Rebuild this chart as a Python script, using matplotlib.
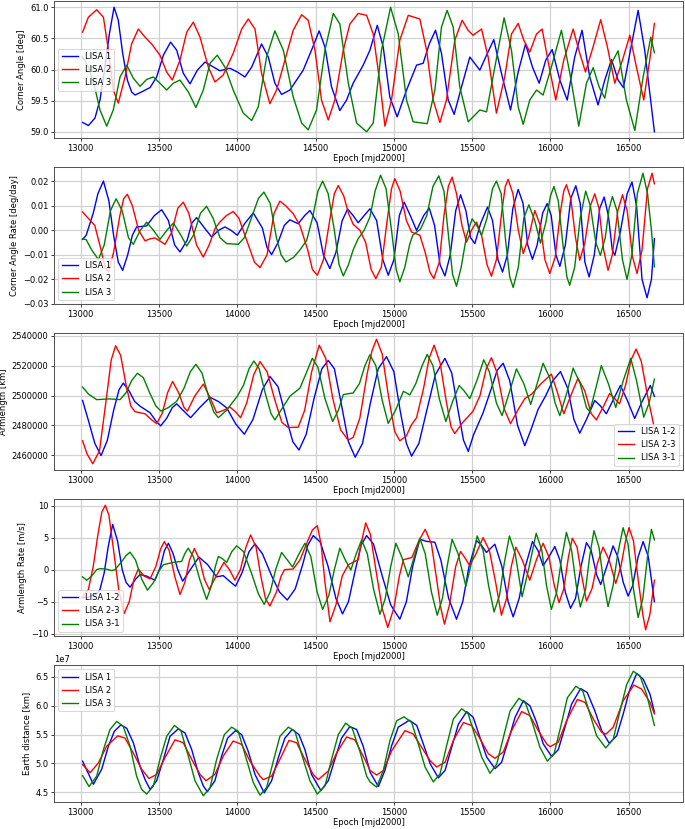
import matplotlib
matplotlib.use("Agg")
import matplotlib.pyplot as plt

# epoch [mjd2000], value
angle_1 = [(13012, 59.15), (13049, 59.10), (13091, 59.22), (13123, 59.51), (13155, 60.04), (13183, 60.57),
           (13213, 61.00), (13240, 60.79), (13268, 60.26), (13298, 59.83), (13325, 59.64), (13347, 59.59),
           (13389, 59.64), (13443, 59.71), (13485, 59.88), (13528, 60.23), (13574, 60.44), (13613, 60.31),
           (13655, 59.94), (13698, 59.77), (13745, 59.99), (13794, 60.12), (13847, 60.04), (13889, 59.98),
           (13953, 60.02), (14000, 59.96), (14049, 59.88), (14092, 60.04), (14155, 60.41), (14198, 60.20),
           (14240, 59.78), (14283, 59.60), (14336, 59.67), (14421, 59.99), (14474, 60.31), (14523, 60.62),
           (14560, 60.36), (14602, 59.72), (14655, 59.34), (14698, 59.51), (14740, 59.78), (14804, 60.07),
           (14847, 60.31), (14894, 60.71), (14932, 60.36), (14974, 59.56), (15021, 59.24), (15081, 59.67),
           (15145, 60.07), (15187, 60.10), (15226, 60.41), (15266, 60.63), (15304, 60.26), (15347, 59.51),
           (15385, 59.28), (15432, 59.72), (15485, 60.20), (15549, 59.99), (15592, 60.23), (15638, 60.48),
           (15687, 59.94), (15745, 59.35), (15794, 59.96), (15841, 60.41), (15885, 60.04), (15928, 59.78),
           (15970, 60.15), (16011, 60.32), (16060, 59.83), (16107, 59.51), (16155, 60.20), (16202, 60.63),
           (16251, 59.88), (16304, 59.43), (16347, 59.83), (16390, 60.16), (16432, 59.83), (16466, 59.71),
           (16511, 60.31), (16560, 60.95), (16602, 60.31), (16645, 59.40), (16664, 59.00)]
angle_2 = [(13012, 60.60), (13049, 60.84), (13102, 60.96), (13145, 60.84), (13177, 60.31), (13208, 59.67),
           (13240, 59.46), (13283, 59.88), (13325, 60.41), (13368, 60.65), (13411, 60.52), (13453, 60.41),
           (13506, 60.23), (13549, 59.96), (13585, 59.83), (13634, 60.15), (13677, 60.60), (13719, 60.76),
           (13762, 60.52), (13815, 60.04), (13857, 59.80), (13910, 59.91), (13974, 60.26), (14028, 60.65),
           (14070, 60.81), (14113, 60.65), (14155, 59.94), (14208, 59.45), (14251, 59.67), (14304, 60.15),
           (14357, 60.63), (14411, 60.88), (14453, 60.79), (14496, 60.31), (14538, 59.51), (14581, 59.19),
           (14623, 59.51), (14677, 60.31), (14719, 60.73), (14772, 60.90), (14826, 60.87), (14868, 60.57),
           (14911, 59.78), (14943, 59.09), (14985, 59.51), (15038, 60.47), (15092, 60.87), (15166, 60.81),
           (15209, 60.31), (15251, 59.51), (15294, 59.15), (15336, 59.51), (15389, 60.47), (15436, 60.79),
           (15474, 60.63), (15506, 60.55), (15560, 60.65), (15602, 60.20), (15655, 59.30), (15708, 59.88),
           (15751, 60.57), (15794, 60.74), (15830, 60.47), (15868, 60.28), (15911, 60.57), (15947, 60.65),
           (15992, 60.04), (16034, 59.51), (16085, 60.15), (16145, 60.65), (16187, 60.26), (16224, 59.96),
           (16272, 60.36), (16321, 60.80), (16364, 60.36), (16411, 59.78), (16460, 60.15), (16507, 60.55),
           (16549, 60.04), (16596, 59.51), (16634, 60.15), (16664, 60.74)]
angle_3 = [(13012, 60.20), (13049, 60.04), (13091, 59.70), (13123, 59.35), (13166, 59.09), (13208, 59.35),
           (13251, 59.88), (13294, 60.07), (13336, 59.86), (13379, 59.73), (13421, 59.84), (13464, 59.88),
           (13506, 59.78), (13549, 59.67), (13591, 59.78), (13634, 59.83), (13687, 59.64), (13736, 59.39),
           (13783, 59.67), (13826, 60.10), (13872, 60.23), (13921, 60.04), (13974, 59.67), (14038, 59.30),
           (14092, 59.18), (14134, 59.40), (14187, 60.20), (14240, 60.62), (14294, 60.31), (14357, 59.56),
           (14411, 59.14), (14453, 59.03), (14506, 59.35), (14560, 60.31), (14613, 60.90), (14655, 60.73),
           (14709, 59.78), (14762, 59.14), (14826, 59.00), (14868, 59.14), (14921, 60.31), (14979, 61.00),
           (15028, 60.57), (15081, 59.51), (15123, 59.16), (15213, 59.13), (15262, 59.67), (15304, 60.68),
           (15340, 60.95), (15379, 60.68), (15421, 59.72), (15475, 59.16), (15549, 59.35), (15592, 59.32),
           (15645, 60.04), (15704, 60.83), (15751, 60.31), (15794, 59.40), (15826, 59.12), (15868, 59.51),
           (15911, 59.67), (15953, 59.59), (16006, 60.04), (16070, 60.63), (16124, 59.94), (16181, 59.09),
           (16230, 59.78), (16273, 60.03), (16311, 59.72), (16347, 59.54), (16390, 60.10), (16432, 60.30),
           (16485, 59.51), (16539, 59.02), (16592, 59.88), (16641, 60.52), (16664, 60.27)]

rate_1 = [(13012, -0.0037), (13035, -0.0020), (13080, 0.0070), (13110, 0.0150), (13145, 0.0201),
          (13180, 0.0120), (13210, -0.0020), (13240, -0.0130), (13268, -0.0163), (13300, -0.0100),
          (13330, -0.0020), (13357, 0.0014), (13421, 0.0018), (13470, 0.0060), (13517, 0.0084),
          (13560, 0.0040), (13600, -0.0060), (13634, -0.0088), (13680, -0.0040), (13710, 0.0030),
          (13740, 0.0052), (13790, 0.0010), (13836, -0.0027), (13880, 0.0000), (13921, 0.0014),
          (13960, 0.0000), (14000, -0.0020), (14050, 0.0030), (14102, 0.0071), (14160, 0.0010),
          (14190, -0.0070), (14219, -0.0099), (14260, -0.0050), (14300, 0.0020), (14336, 0.0043),
          (14389, 0.0027), (14430, 0.0060), (14464, 0.0081), (14510, 0.0030), (14550, -0.0100),
          (14591, -0.0156), (14630, -0.0090), (14670, 0.0040), (14705, 0.0087), (14740, 0.0060),
          (14772, 0.0031), (14810, 0.0060), (14847, 0.0088), (14890, 0.0040), (14930, -0.0120),
          (14964, -0.0183), (15000, -0.0120), (15035, 0.0060), (15066, 0.0115), (15105, 0.0060),
          (15145, 0.0000), (15190, 0.0060), (15226, 0.0091), (15260, 0.0020), (15295, -0.0140),
          (15326, -0.0186), (15360, -0.0100), (15395, 0.0080), (15426, 0.0145), (15460, 0.0080),
          (15490, -0.0030), (15517, -0.0054), (15555, 0.0030), (15598, 0.0095), (15630, 0.0040),
          (15665, -0.0120), (15694, -0.0170), (15725, -0.0100), (15760, 0.0090), (15794, 0.0167),
          (15825, 0.0110), (15855, -0.0060), (15885, -0.0118), (15915, -0.0060), (15950, 0.0070),
          (15979, 0.0109), (16005, 0.0060), (16035, -0.0100), (16060, -0.0147), (16095, -0.0060),
          (16130, 0.0130), (16162, 0.0182), (16190, 0.0110), (16220, -0.0130), (16247, -0.0190),
          (16280, -0.0100), (16315, 0.0090), (16343, 0.0136), (16370, 0.0060), (16395, -0.0080),
          (16411, -0.0102), (16445, -0.0010), (16490, 0.0150), (16521, 0.0197), (16550, 0.0100),
          (16585, -0.0200), (16617, -0.0275), (16645, -0.0200), (16664, -0.0034)]
rate_2 = [(13012, 0.0075), (13040, 0.0055), (13060, 0.0041), (13090, 0.0020), (13130, -0.0080),
          (13155, -0.0150), (13177, -0.0169), (13210, -0.0090), (13250, 0.0060), (13275, 0.0130),
          (13298, 0.0147), (13330, 0.0100), (13370, 0.0000), (13411, -0.0043), (13440, -0.0035),
          (13474, -0.0031), (13510, -0.0045), (13538, -0.0057), (13580, -0.0010), (13620, 0.0090),
          (13655, 0.0115), (13690, 0.0070), (13740, -0.0060), (13783, -0.0109), (13820, -0.0060),
          (13860, 0.0010), (13889, 0.0034), (13930, 0.0060), (13974, 0.0077), (14010, 0.0050),
          (14060, -0.0040), (14110, -0.0130), (14145, -0.0152), (14190, -0.0100), (14235, 0.0070),
          (14272, 0.0119), (14310, 0.0100), (14357, 0.0068), (14400, 0.0020), (14450, -0.0080),
          (14480, -0.0160), (14511, -0.0183), (14550, -0.0120), (14590, 0.0040), (14620, 0.0150),
          (14645, 0.0183), (14680, 0.0140), (14710, 0.0070), (14740, 0.0025), (14783, 0.0000),
          (14820, -0.0050), (14855, -0.0160), (14885, -0.0197), (14920, -0.0150), (14955, 0.0030),
          (14985, 0.0170), (15006, 0.0211), (15040, 0.0160), (15080, 0.0040), (15113, -0.0007),
          (15166, -0.0020), (15200, -0.0090), (15230, -0.0170), (15255, -0.0197), (15290, -0.0130),
          (15320, 0.0060), (15348, 0.0180), (15372, 0.0217), (15400, 0.0150), (15435, 0.0020),
          (15464, -0.0048), (15495, 0.0000), (15528, 0.0034), (15560, -0.0020), (15595, -0.0140),
          (15623, -0.0187), (15655, -0.0120), (15690, 0.0080), (15712, 0.0180), (15730, 0.0208),
          (15760, 0.0150), (15795, 0.0000), (15826, -0.0095), (15860, -0.0030), (15900, 0.0081),
          (15935, 0.0020), (15965, -0.0120), (15996, -0.0176), (16030, -0.0110), (16065, 0.0080),
          (16085, 0.0160), (16102, 0.0186), (16130, 0.0130), (16160, -0.0030), (16187, -0.0122),
          (16220, -0.0050), (16255, 0.0100), (16283, 0.0149), (16310, 0.0090), (16340, -0.0080),
          (16368, -0.0163), (16395, -0.0100), (16430, 0.0080), (16460, 0.0145), (16490, 0.0080),
          (16525, -0.0110), (16553, -0.0176), (16585, -0.0080), (16620, 0.0170), (16649, 0.0233),
          (16664, 0.0190)]
rate_3 = [(13012, -0.0034), (13035, -0.0038), (13070, -0.0080), (13113, -0.0119), (13150, -0.0060),
          (13190, 0.0080), (13226, 0.0129), (13265, 0.0080), (13305, -0.0030), (13336, -0.0057),
          (13380, 0.0000), (13421, 0.0033), (13465, 0.0000), (13506, -0.0037), (13550, 0.0000),
          (13592, 0.0030), (13640, -0.0020), (13677, -0.0064), (13720, -0.0020), (13765, 0.0070),
          (13804, 0.0098), (13845, 0.0050), (13890, -0.0030), (13932, -0.0054), (14006, -0.0057),
          (14045, -0.0030), (14090, 0.0050), (14135, 0.0130), (14170, 0.0156), (14210, 0.0110),
          (14250, -0.0030), (14280, -0.0100), (14311, -0.0129), (14360, -0.0110), (14400, -0.0080),
          (14443, -0.0041), (14480, 0.0050), (14515, 0.0160), (14545, 0.0201), (14580, 0.0150),
          (14620, 0.0000), (14650, -0.0140), (14677, -0.0186), (14710, -0.0140), (14740, -0.0080),
          (14772, -0.0034), (14810, 0.0000), (14847, 0.0054), (14880, 0.0160), (14915, 0.0225),
          (14950, 0.0170), (14985, 0.0000), (15015, -0.0160), (15038, -0.0210), (15070, -0.0150),
          (15100, -0.0060), (15120, -0.0020), (15170, 0.0005), (15210, 0.0060), (15250, 0.0180),
          (15287, 0.0222), (15320, 0.0160), (15350, -0.0030), (15375, -0.0180), (15400, -0.0228),
          (15430, -0.0150), (15465, -0.0020), (15500, 0.0047), (15530, 0.0020), (15560, -0.0020),
          (15595, 0.0050), (15630, 0.0170), (15655, 0.0201), (15685, 0.0150), (15715, -0.0050),
          (15740, -0.0190), (15762, -0.0233), (15795, -0.0150), (15830, 0.0050), (15862, 0.0104),
          (15900, 0.0040), (15936, -0.0052), (15970, 0.0030), (16000, 0.0140), (16022, 0.0179),
          (16050, 0.0120), (16080, -0.0060), (16105, -0.0190), (16123, -0.0224), (16155, -0.0150),
          (16190, 0.0050), (16225, 0.0160), (16255, 0.0100), (16290, -0.0050), (16319, -0.0102),
          (16350, -0.0030), (16375, 0.0090), (16396, 0.0138), (16425, 0.0080), (16460, -0.0120),
          (16489, -0.0200), (16520, -0.0100), (16555, 0.0150), (16591, 0.0233), (16620, 0.0150),
          (16645, 0.0000), (16664, -0.0149)]

arm_12 = [(13012, 2496700), (13050, 2483000), (13090, 2468000), (13130, 2459800), (13170, 2470000),
          (13210, 2490000), (13245, 2504000), (13272, 2508400), (13310, 2503000), (13345, 2496000),
          (13379, 2492900), (13443, 2488500), (13480, 2483000), (13511, 2479700), (13550, 2485000),
          (13585, 2492000), (13613, 2494500), (13650, 2490500), (13702, 2485200), (13760, 2492000),
          (13826, 2498900), (13880, 2496000), (13932, 2491800), (13990, 2481000), (14045, 2474100),
          (14100, 2484000), (14160, 2504000), (14209, 2512800), (14260, 2506000), (14310, 2486000),
          (14355, 2469000), (14394, 2463500), (14440, 2474000), (14490, 2498000), (14540, 2518000),
          (14581, 2523600), (14620, 2518000), (14665, 2494000), (14710, 2469000), (14753, 2458700),
          (14800, 2468000), (14850, 2495000), (14900, 2518000), (14953, 2526100), (15000, 2516000),
          (15040, 2490000), (15080, 2468000), (15113, 2459400), (15160, 2468000), (15210, 2490000),
          (15265, 2514000), (15326, 2525000), (15370, 2515000), (15410, 2490000), (15445, 2470000),
          (15475, 2462600), (15510, 2474000), (15570, 2488500), (15620, 2504000), (15660, 2517000),
          (15698, 2521700), (15740, 2510000), (15790, 2480000), (15836, 2466400), (15875, 2477000),
          (15921, 2490700), (15970, 2500000), (16015, 2510000), (16064, 2516100), (16110, 2505000),
          (16150, 2484000), (16187, 2474800), (16230, 2484000), (16283, 2496700), (16320, 2493000),
          (16357, 2487800), (16400, 2497000), (16447, 2506800), (16490, 2497000), (16538, 2484700),
          (16585, 2496000), (16638, 2506800), (16664, 2499500)]
arm_23 = [(13012, 2469700), (13040, 2461000), (13077, 2454300), (13120, 2463000), (13160, 2495000),
          (13195, 2524000), (13223, 2533400), (13255, 2527000), (13290, 2507000), (13320, 2493000),
          (13347, 2489200), (13411, 2487800), (13450, 2484000), (13485, 2481200), (13520, 2488000),
          (13555, 2502000), (13587, 2509500), (13625, 2502000), (13660, 2492000), (13681, 2489600),
          (13730, 2500000), (13783, 2507700), (13825, 2499000), (13868, 2488500), (13910, 2490000),
          (13953, 2492300), (13990, 2489000), (14021, 2485200), (14060, 2495000), (14105, 2514000),
          (14145, 2522800), (14190, 2516000), (14240, 2497000), (14285, 2482000), (14326, 2478600),
          (14389, 2478800), (14430, 2490000), (14475, 2516000), (14523, 2533800), (14565, 2525000),
          (14610, 2498000), (14660, 2477000), (14708, 2470200), (14740, 2472000), (14783, 2485000),
          (14830, 2515000), (14860, 2530000), (14889, 2537800), (14925, 2528000), (14965, 2500000),
          (15005, 2476000), (15038, 2469700), (15080, 2473000), (15110, 2480000), (15145, 2485200),
          (15190, 2505000), (15225, 2525000), (15257, 2533800), (15295, 2522000), (15335, 2496000),
          (15365, 2479000), (15389, 2474600), (15440, 2482000), (15506, 2489600), (15550, 2500000),
          (15590, 2518000), (15623, 2525400), (15660, 2515000), (15705, 2491000), (15745, 2481200),
          (15790, 2490000), (15836, 2498000), (15880, 2501000), (15940, 2508000), (16006, 2514400),
          (16045, 2502000), (16085, 2487800), (16130, 2500000), (16176, 2511700), (16220, 2503000),
          (16260, 2488000), (16293, 2483700), (16335, 2492000), (16378, 2501400), (16410, 2498000),
          (16441, 2494500), (16480, 2507000), (16515, 2524000), (16547, 2531200), (16580, 2523000),
          (16620, 2500000), (16664, 2478000)]
arm_31 = [(13012, 2505700), (13050, 2501000), (13102, 2497300), (13187, 2497800), (13251, 2497300),
          (13290, 2502000), (13325, 2510000), (13362, 2515000), (13400, 2512000), (13440, 2502000),
          (13480, 2493000), (13513, 2489600), (13560, 2492000), (13613, 2496200), (13660, 2505000),
          (13700, 2516000), (13736, 2521000), (13775, 2515000), (13820, 2498000), (13850, 2489000),
          (13879, 2485200), (13930, 2490000), (14000, 2499600), (14040, 2507000), (14075, 2518000),
          (14106, 2523200), (14140, 2518000), (14180, 2501000), (14215, 2488000), (14240, 2483700),
          (14290, 2492000), (14336, 2499600), (14400, 2505000), (14440, 2515000), (14479, 2525000),
          (14515, 2519000), (14560, 2498000), (14609, 2482600), (14645, 2490000), (14677, 2500700),
          (14740, 2501800), (14780, 2508000), (14815, 2520000), (14847, 2527400), (14885, 2520000),
          (14925, 2497000), (14964, 2481400), (15010, 2490000), (15061, 2502900), (15102, 2500500),
          (15140, 2508000), (15180, 2520000), (15213, 2527600), (15250, 2520000), (15290, 2498000),
          (15332, 2482600), (15375, 2496000), (15417, 2506800), (15450, 2503000), (15485, 2498000),
          (15530, 2510000), (15574, 2524000), (15610, 2516000), (15655, 2495000), (15691, 2486600),
          (15740, 2503000), (15783, 2517900), (15830, 2508000), (15874, 2494100), (15915, 2508000),
          (15953, 2521700), (15995, 2512000), (16030, 2495000), (16060, 2486600), (16105, 2502000),
          (16145, 2518400), (16190, 2508000), (16230, 2492000), (16251, 2489300), (16290, 2505000),
          (16325, 2520100), (16370, 2508000), (16417, 2492000), (16465, 2510000), (16513, 2525000),
          (16550, 2510000), (16596, 2485500), (16630, 2495000), (16664, 2511000)]

armrate_12 = [(13012, -4.40), (13060, -4.20), (13100, -3.80), (13123, -3.10), (13150, -0.50), (13175, 3.50),
              (13204, 7.06), (13235, 4.50), (13265, 0.00), (13290, -2.00), (13315, -2.73), (13350, -1.50),
              (13379, -0.77), (13420, -1.00), (13474, -1.65), (13510, 0.50), (13535, 3.00), (13560, 4.12),
              (13590, 2.50), (13620, 0.00), (13651, -1.80), (13700, 0.00), (13755, 1.96), (13810, 0.80),
              (13868, -1.13), (13910, -0.93), (13950, -1.80), (13989, -2.58), (14030, -0.50), (14075, 2.80),
              (14113, 4.02), (14160, 2.50), (14220, -1.00), (14270, -3.50), (14319, -4.74), (14370, -3.00),
              (14420, 1.00), (14450, 3.80), (14485, 5.31), (14530, 4.30), (14580, 0.50), (14630, -4.50),
              (14672, -6.90), (14710, -5.00), (14750, -0.50), (14790, 3.80), (14826, 5.31), (14870, 4.00),
              (14920, -0.50), (14980, -5.50), (15038, -7.73), (15080, -5.00), (15120, 0.50), (15166, 4.74),
              (15210, 4.40), (15262, 4.28), (15300, 1.50), (15350, -4.50), (15400, -7.73), (15440, -5.00),
              (15480, 0.50), (15528, 4.54), (15560, 3.80), (15591, 2.68), (15645, 3.97), (15690, 0.50),
              (15730, -5.00), (15762, -7.37), (15800, -4.50), (15840, 0.50), (15885, 4.38), (15920, 3.00),
              (15953, 0.62), (15990, 2.00), (16028, 3.61), (16060, 1.50), (16095, -3.50), (16128, -6.03),
              (16160, -4.50), (16195, 0.50), (16230, 4.23), (16260, 3.00), (16295, -0.80), (16321, -2.32),
              (16360, 0.50), (16400, 3.71), (16430, 2.00), (16465, -2.00), (16496, -4.12), (16525, -2.50),
              (16560, 2.00), (16592, 4.38), (16625, 2.00), (16664, -5.00)]
armrate_23 = [(13012, -4.23), (13049, -3.10), (13080, 0.50), (13110, 5.50), (13135, 9.00), (13157, 10.05),
              (13180, 8.50), (13210, 3.00), (13245, -3.50), (13277, -6.86), (13310, -5.00), (13340, -1.50),
              (13368, 0.10), (13405, -1.00), (13443, -1.44), (13480, 0.50), (13510, 3.20), (13534, 4.38),
              (13565, 3.00), (13600, -1.00), (13634, -3.87), (13665, -2.00), (13695, 1.50), (13726, 3.30),
              (13760, 1.50), (13790, -1.50), (13821, -3.09), (13865, -1.00), (13915, 1.13), (13950, 0.00),
              (13985, -1.65), (14020, 0.00), (14055, 3.50), (14085, 5.41), (14120, 3.50), (14150, -1.00),
              (14180, -4.50), (14208, -5.67), (14250, -3.50), (14280, -1.00), (14302, 0.00), (14357, 0.10),
              (14400, 1.50), (14450, 4.50), (14480, 6.20), (14511, 6.86), (14535, 4.00), (14560, -2.00),
              (14592, -8.14), (14630, -5.50), (14670, -1.00), (14709, 0.77), (14772, 1.55), (14795, 4.50),
              (14820, 7.30), (14850, 5.50), (14885, 0.00), (14925, -6.00), (14961, -9.02), (15000, -6.00),
              (15035, -1.00), (15061, 1.55), (15115, 1.90), (15160, 4.50), (15200, 6.29), (15240, 4.00),
              (15270, -1.00), (15300, -6.00), (15323, -8.50), (15355, -5.50), (15395, 0.50), (15426, 2.84),
              (15455, 1.80), (15485, 0.62), (15525, 2.50), (15570, 5.00), (15610, 3.00), (15650, -2.00),
              (15687, -7.11), (15720, -4.50), (15750, 0.50), (15779, 3.50), (15820, 1.50), (15868, -1.65),
              (15910, 1.50), (15953, 4.12), (15990, 2.00), (16025, -2.50), (16055, -5.15), (16085, -3.00),
              (16115, 2.00), (16140, 4.90), (16170, 3.50), (16200, -1.00), (16230, -4.90), (16265, -3.00),
              (16300, 1.00), (16336, 3.50), (16375, 1.50), (16417, -2.16), (16450, 0.50), (16480, 4.50),
              (16502, 6.55), (16530, 4.50), (16560, -1.50), (16590, -7.00), (16608, -9.38), (16635, -7.00),
              (16664, -1.65)]
armrate_31 = [(13012, -1.13), (13038, -1.65), (13070, -1.00), (13102, 0.00), (13123, 0.15), (13160, 0.10),
              (13198, -0.15), (13219, 0.00), (13260, 1.20), (13290, 2.20), (13315, 2.73), (13350, 1.50),
              (13390, -1.50), (13426, -3.20), (13465, -2.00), (13500, -0.20), (13528, 0.77), (13591, 1.13),
              (13645, 1.29), (13665, 2.50), (13687, 3.35), (13720, 2.00), (13760, -1.50), (13804, -4.64),
              (13835, -2.50), (13860, 0.50), (13879, 2.06), (13905, 1.70), (13932, 1.13), (13965, 2.80),
              (13996, 3.71), (14040, 2.80), (14090, -0.50), (14135, -3.80), (14172, -5.41), (14210, -3.50),
              (14245, 0.00), (14283, 2.68), (14320, 1.50), (14353, 0.41), (14395, 2.50), (14432, 4.12),
              (14470, 2.00), (14510, -3.50), (14545, -6.19), (14585, -4.00), (14620, 0.00), (14655, 3.35),
              (14690, 1.50), (14725, -0.05), (14760, 2.50), (14794, 4.64), (14830, 2.50), (14870, -3.00),
              (14911, -6.96), (14945, -4.50), (14980, 0.50), (15013, 4.12), (15050, 2.00), (15092, -1.13),
              (15130, 2.00), (15166, 4.90), (15200, 2.50), (15240, -3.50), (15277, -7.11), (15310, -4.50),
              (15340, 0.50), (15372, 4.74), (15410, 2.50), (15460, -2.58), (15495, 1.00), (15532, 5.26),
              (15570, 3.00), (15605, -2.50), (15640, -6.60), (15675, -4.00), (15705, 1.00), (15738, 5.26),
              (15775, 2.50), (15819, -4.23), (15860, 0.00), (15909, 5.67), (15945, 3.00), (15975, -2.50),
              (16006, -6.19), (16040, -3.50), (16070, 1.50), (16102, 5.82), (16135, 3.00), (16165, -2.50),
              (16191, -5.82), (16225, -3.00), (16250, 2.00), (16278, 6.08), (16310, 3.50), (16340, -2.00),
              (16368, -5.77), (16400, -2.50), (16430, 2.50), (16464, 6.55), (16495, 4.00), (16530, -3.00),
              (16560, -7.47), (16590, -4.50), (16620, 2.00), (16645, 6.29), (16664, 4.64)]

# earth distance in units of 1e7 km
earth_1 = [(13012, 5.04), (13081, 4.64), (13134, 4.90), (13177, 5.30), (13215, 5.56), (13257, 5.67),
           (13294, 5.61), (13336, 5.36), (13379, 4.95), (13411, 4.72), (13443, 4.55), (13485, 4.70),
           (13528, 5.07), (13570, 5.47), (13623, 5.60), (13666, 5.53), (13709, 5.24), (13751, 4.84),
           (13783, 4.61), (13809, 4.51), (13857, 4.70), (13900, 5.13), (13938, 5.44), (13989, 5.57),
           (14028, 5.50), (14070, 5.21), (14113, 4.81), (14172, 4.49), (14219, 4.70), (14262, 5.10),
           (14304, 5.44), (14351, 5.59), (14394, 5.50), (14432, 5.24), (14474, 4.81), (14534, 4.53),
           (14581, 4.70), (14623, 5.07), (14666, 5.44), (14719, 5.64), (14762, 5.59), (14804, 5.30),
           (14848, 4.85), (14901, 4.60), (14943, 4.88), (14986, 5.31), (15028, 5.63), (15099, 5.75),
           (15146, 5.66), (15188, 5.34), (15231, 5.00), (15284, 4.75), (15327, 4.88), (15369, 5.28),
           (15412, 5.68), (15465, 5.90), (15507, 5.80), (15550, 5.45), (15593, 5.11), (15646, 4.91),
           (15688, 5.02), (15731, 5.40), (15774, 5.80), (15827, 6.09), (15869, 6.00), (15912, 5.71),
           (15954, 5.34), (16008, 5.12), (16050, 5.24), (16093, 5.63), (16135, 6.03), (16193, 6.30),
           (16235, 6.23), (16284, 5.91), (16327, 5.57), (16376, 5.35), (16423, 5.48), (16465, 5.86),
           (16504, 6.26), (16551, 6.56), (16593, 6.46), (16636, 6.20), (16664, 5.89)]
earth_2 = [(13012, 4.98), (13060, 4.84), (13113, 5.01), (13166, 5.30), (13236, 5.48), (13283, 5.44),
           (13336, 5.18), (13389, 4.90), (13436, 4.74), (13485, 4.81), (13538, 5.10), (13602, 5.41),
           (13655, 5.36), (13709, 5.07), (13762, 4.81), (13800, 4.70), (13857, 4.81), (13911, 5.13),
           (13974, 5.39), (14028, 5.33), (14081, 5.04), (14145, 4.78), (14166, 4.72), (14219, 4.78),
           (14272, 5.07), (14330, 5.40), (14379, 5.36), (14432, 5.07), (14485, 4.81), (14517, 4.72),
           (14581, 4.87), (14634, 5.18), (14698, 5.46), (14751, 5.41), (14815, 5.07), (14848, 4.88),
           (14890, 4.80), (14933, 4.88), (14986, 5.22), (15071, 5.57), (15124, 5.51), (15177, 5.28),
           (15231, 5.05), (15273, 4.94), (15327, 5.02), (15380, 5.40), (15444, 5.71), (15497, 5.66),
           (15550, 5.43), (15603, 5.17), (15646, 5.09), (15699, 5.20), (15752, 5.57), (15816, 5.90),
           (15869, 5.83), (15922, 5.57), (15976, 5.34), (15997, 5.29), (16050, 5.37), (16103, 5.74),
           (16172, 6.11), (16221, 6.06), (16274, 5.77), (16327, 5.54), (16355, 5.51), (16401, 5.63),
           (16465, 6.09), (16533, 6.36), (16582, 6.29), (16636, 6.06), (16664, 5.86)]
earth_3 = [(13012, 4.79), (13053, 4.60), (13102, 4.78), (13145, 5.24), (13187, 5.59), (13230, 5.73),
           (13272, 5.64), (13315, 5.30), (13357, 4.78), (13389, 4.55), (13421, 4.47), (13464, 4.61),
           (13506, 5.07), (13549, 5.47), (13598, 5.66), (13640, 5.57), (13687, 5.13), (13730, 4.70),
           (13783, 4.44), (13826, 4.58), (13868, 5.07), (13917, 5.50), (13964, 5.63), (14006, 5.56),
           (14049, 5.16), (14102, 4.67), (14145, 4.45), (14187, 4.58), (14230, 5.04), (14272, 5.47),
           (14326, 5.63), (14368, 5.56), (14411, 5.16), (14464, 4.70), (14511, 4.47), (14560, 4.61),
           (14602, 5.07), (14645, 5.50), (14692, 5.70), (14734, 5.61), (14783, 5.21), (14826, 4.78),
           (14848, 4.68), (14890, 4.59), (14933, 4.88), (14975, 5.40), (15018, 5.74), (15065, 5.81),
           (15114, 5.71), (15156, 5.34), (15199, 4.94), (15252, 4.68), (15295, 4.82), (15337, 5.31),
           (15380, 5.77), (15433, 5.95), (15475, 5.86), (15518, 5.48), (15561, 5.11), (15614, 4.83),
           (15657, 4.99), (15699, 5.45), (15742, 5.91), (15799, 6.13), (15842, 6.04), (15884, 5.71),
           (15933, 5.28), (15980, 5.04), (16023, 5.17), (16065, 5.63), (16108, 6.14), (16163, 6.34),
           (16206, 6.26), (16252, 5.86), (16295, 5.48), (16353, 5.27), (16401, 5.42), (16444, 5.91),
           (16487, 6.37), (16529, 6.60), (16572, 6.52), (16614, 6.20), (16664, 5.66)]

sc_labels = ["LISA 1", "LISA 2", "LISA 3"]
arm_labels = ["LISA 1-2", "LISA 2-3", "LISA 3-1"]
colors = ["b", "r", "g"]
xticks = [13000, 13500, 14000, 14500, 15000, 15500, 16000, 16500]

panels = [
    ([angle_1, angle_2, angle_3], 1, sc_labels, "Corner Angle [deg]", "center left"),
    ([rate_1, rate_2, rate_3], 1, sc_labels, "Corner Angle Rate [deg/day]", "lower left"),
    ([arm_12, arm_23, arm_31], 1, arm_labels, "Armlength [km]", "lower right"),
    ([armrate_12, armrate_23, armrate_31], 1, arm_labels, "Armlength Rate [m/s]", "lower left"),
    ([earth_1, earth_2, earth_3], 1e7, sc_labels, "Earth distance [km]", "upper left"),
]

plt.rcParams["font.size"] = 9

W, H = 685, 829
DPI = 200 / 3
fig = plt.figure(figsize=(W / DPI, H / DPI), dpi=DPI)
tops = [1, 167, 333, 499, 665]
ax_h = 137

for top, (series, scale, labels, ylabel, loc) in zip(tops, panels):
    ax = fig.add_axes([54 / W, 1 - (top + ax_h) / H, 629 / W, ax_h / H])
    for pts, lab, col in zip(series, labels, colors):
        xs = [p[0] for p in pts]
        ys = [p[1] * scale for p in pts]
        ax.plot(xs, ys, color=col, label=lab, linewidth=1.5)
    ax.grid(True, color="#d0d0d0", linewidth=1.3)
    ax.set_axisbelow(True)
    for sp in ax.spines.values():
        sp.set_color("#555555")
        sp.set_linewidth(1.1)
    ax.set_xticks(xticks)
    ax.tick_params(pad=2.5)
    if scale == 1:
        ax.ticklabel_format(axis="y", style="plain", useOffset=False)
    ax.set_xlabel("Epoch [mjd2000]", labelpad=2)
    ax.set_ylabel(ylabel)
    ax.legend(loc=loc)

fig.savefig("out.png", dpi=DPI)
